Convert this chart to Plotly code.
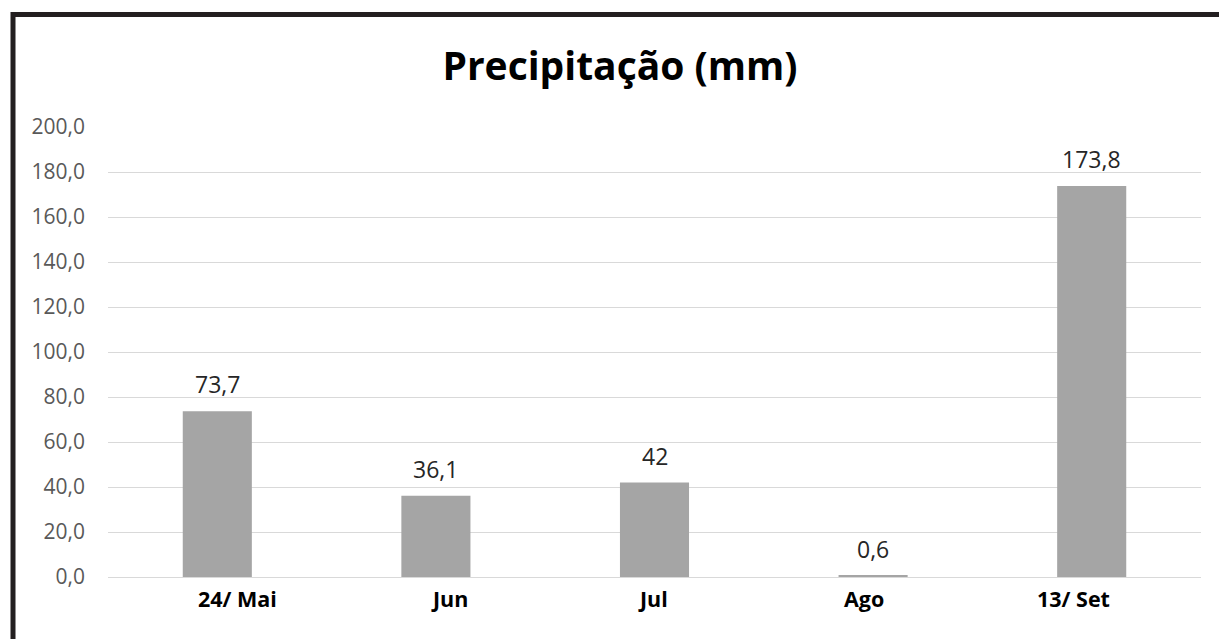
import plotly.graph_objects as go

# Monthly precipitation totals (mm)
categories = ["24/ Mai", "Jun", "Jul", "Ago", "13/ Set"]
precip_mm = [73.7, 36.1, 42, 0.6, 173.8]
bar_labels = ["73,7", "36,1", "42", "0,6", "173,8"]
y_ticks = [0, 20, 40, 60, 80, 100, 120, 140, 160, 180, 200]

# horizontal nudges (px) for the category captions under the bars
caption_shift = [20, 14, -2, -9, -18]

W, H = 1219, 639
L, R, T, B = 108, 18, 127, 62
pw, ph = W - L - R, H - T - B

def px_x(px):
    return (px - L) / pw

def px_y(py):
    return (H - B - py) / ph

fig = go.Figure(
    go.Bar(
        x=categories,
        y=precip_mm,
        marker=dict(color="#a5a5a5", line=dict(width=0)),
        hoverinfo="skip",
    )
)

annotations = []
# value labels above each bar
for cat, val, lab in zip(categories, precip_mm, bar_labels):
    annotations.append(dict(
        x=cat, y=val, xref="x", yref="y",
        text=lab, showarrow=False,
        xanchor="center", yanchor="middle", yshift=27,
        font=dict(family="Open Sans", size=23, color="#262626"),
    ))
# category captions below the axis
for cat, dx in zip(categories, caption_shift):
    annotations.append(dict(
        x=cat, y=px_y(598), xref="x", yref="paper",
        text="<b>" + cat + "</b>", showarrow=False,
        xanchor="center", yanchor="middle", xshift=dx,
        font=dict(family="Open Sans", size=21.5, color="#000000"),
    ))

fig.update_layout(
    width=W,
    height=H,
    margin=dict(l=L, r=R, t=T, b=B, pad=0),
    paper_bgcolor="white",
    plot_bgcolor="white",
    separators=",.",
    bargap=0.684,
    showlegend=False,
    title=dict(
        text="<b>Precipitação (mm)</b>",
        x=620 / W,
        xref="container",
        xanchor="center",
        y=1 - 66 / H,
        yanchor="middle",
        font=dict(family="Open Sans", size=39, color="#000000"),
    ),
    xaxis=dict(
        showgrid=False,
        showline=False,
        ticks="",
        showticklabels=False,
    ),
    yaxis=dict(
        range=[0, 200],
        tickvals=y_ticks,
        tickformat=".1f",
        showgrid=True,
        gridcolor="#d9d9d9",
        gridwidth=1,
        zeroline=True,
        zerolinecolor="#d9d9d9",
        zerolinewidth=1,
        showline=False,
        ticks="",
        ticklabelstandoff=22,
        tickfont=dict(family="Open Sans", size=21, color="#595959"),
    ),
    annotations=annotations,
    shapes=[
        # frame: top edge, running off the right side
        dict(
            type="line", xref="paper", yref="paper",
            x0=px_x(11), x1=px_x(W),
            y0=px_y(14.5), y1=px_y(14.5),
            line=dict(color="#231f20", width=5),
            layer="above",
        ),
        # frame: left edge, running off the bottom
        dict(
            type="line", xref="paper", yref="paper",
            x0=px_x(13), x1=px_x(13),
            y0=px_y(12), y1=px_y(H),
            line=dict(color="#231f20", width=5),
            layer="above",
        ),
    ],
)

fig.write_html("out.html", config={"displayModeBar": False})
